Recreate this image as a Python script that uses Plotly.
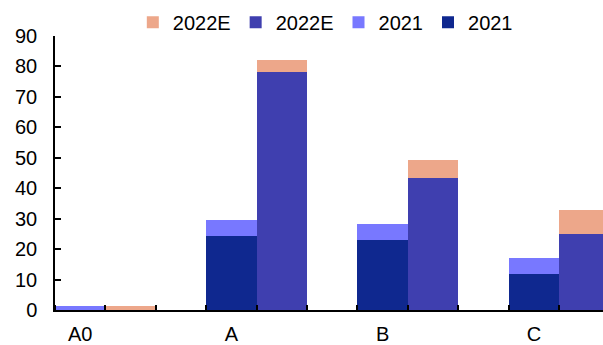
import plotly.graph_objects as go

categories = ["A0", "A", "B", "C"]
base_2021 = [0.0, 24.4, 23.0, 11.8]
top_2021 = [1.4, 5.2, 5.3, 5.3]
base_2022 = [0.0, 78.3, 43.4, 25.0]
top_2022 = [1.4, 3.8, 5.9, 7.9]
y_ticks = list(range(0, 100, 10))

# slot positions: each category takes 3 slots (2021, 2022E, gap)
x2021 = [3 * i for i in range(len(categories))]
x2022 = [3 * i + 1 for i in range(len(categories))]

NAVY = "#0F288F"
LIGHT = "#7878FF"
INDIGO = "#3F3FAF"
SALMON = "#EDA78A"

fig = go.Figure()
fig.add_bar(x=x2021, y=base_2021, name="2021", marker=dict(color=NAVY, line=dict(width=0)), width=1, legendrank=4)
fig.add_bar(x=x2021, y=top_2021, name="2021", marker=dict(color=LIGHT, line=dict(width=0)), width=1, legendrank=3)
fig.add_bar(x=x2022, y=base_2022, name="2022E", marker=dict(color=INDIGO, line=dict(width=0)), width=1, legendrank=2)
fig.add_bar(x=x2022, y=top_2022, name="2022E", marker=dict(color=SALMON, line=dict(width=0)), width=1, legendrank=1)

font = dict(family="Liberation Sans, Arial, sans-serif", size=20, color="#000000")

fig.update_layout(
    width=603, height=345,
    margin=dict(l=55, r=0, t=36, b=35, autoexpand=False),
    barmode="stack",
    bargap=0,
    plot_bgcolor="white",
    paper_bgcolor="white",
    font=font,
    showlegend=True,
    legend=dict(
        orientation="h", x=0.142, xanchor="left", y=1.05, yanchor="middle",
        font=dict(family="Liberation Sans, Arial, sans-serif", size=20),
        itemwidth=30, traceorder="normal", bgcolor="rgba(0,0,0,0)",
    ),
    xaxis=dict(
        range=[-0.5, 10.37], automargin=False,
        tickmode="array", tickvals=x2021, ticktext=categories,
        ticks="", showgrid=False, zeroline=False,
        showline=True, linecolor="black", linewidth=1.5,
        ticklabelstandoff=5,
        minor=dict(tickmode="linear", tick0=-0.5, dtick=1, ticks="inside",
                   ticklen=5, tickwidth=1.5, tickcolor="black", showgrid=False),
    ),
    yaxis=dict(
        range=[0, 90], automargin=False,
        tickmode="array", tickvals=y_ticks,
        ticks="inside", ticklen=6, tickwidth=1.5, tickcolor="black",
        showgrid=False, zeroline=False,
        showline=True, linecolor="black", linewidth=1.5,
        ticklabelstandoff=12,
    ),
)

fig.write_html("out.html")
